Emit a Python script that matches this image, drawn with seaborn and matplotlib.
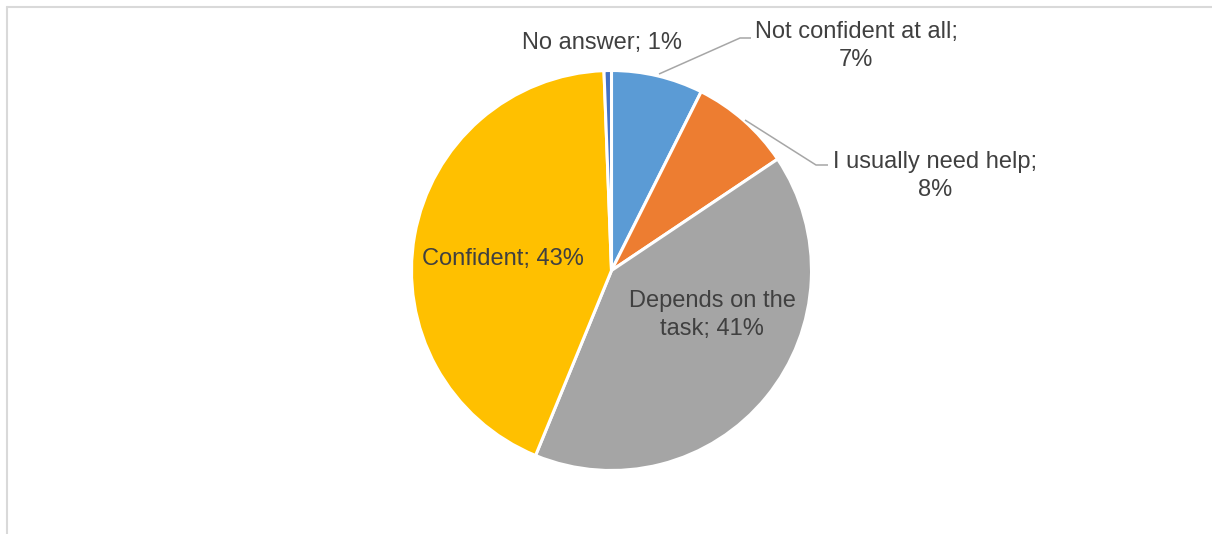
import matplotlib
matplotlib.use("Agg")
import matplotlib.pyplot as plt
from matplotlib.lines import Line2D
import seaborn as sns

# Survey: how confident respondents feel (share of answers, %)
categories = ["Not confident at all", "I usually need help", "Depends on the task",
              "Confident", "No answer"]
shares = [7.4, 8.2, 40.6, 43.2, 0.6]
colors = ["#5B9BD5", "#ED7D31", "#A5A5A5", "#FFC000", "#4472C4"]

sns.set_theme(style="white")
plt.rcParams["font.family"] = ["Liberation Sans", "DejaVu Sans"]

W, H, DPI = 1212, 534, 100
fig = plt.figure(figsize=(W / DPI, H / DPI), dpi=DPI)
ax = fig.add_axes([0, 0, 1, 1])

# pie of radius 1 centred at origin; 1 data unit = 200 px
cx, cy, R = 611.5, 270.5, 200.0

wedges, _ = ax.pie(shares, colors=colors, startangle=90, counterclock=False,
                   radius=1.0, center=(0, 0),
                   wedgeprops=dict(edgecolor="white", linewidth=2.2))
ax.set_xlim(-cx / R, (W - cx) / R)
ax.set_ylim(-(H - cy) / R, cy / R)
ax.set_aspect("equal")
ax.axis("off")


def d(px, py):
    """pixel position -> data coordinates"""
    return (px - cx) / R, (cy - py) / R


txt = dict(color="#404040", fontsize=17, ha="center", va="center")
pct = [f"{round(v)}%" for v in shares]

ax.text(*d(602, 43), f"{categories[4]}; {pct[4]}", **txt)
ax.text(*d(856, 46), f"{categories[0]};\n{pct[0]}", linespacing=1.32, **txt)
ax.text(*d(935, 176), f"{categories[1]};\n{pct[1]}", linespacing=1.3, **txt)
ax.text(*d(503, 259), f"{categories[3]}; {pct[3]}", **txt)
ax.text(*d(712, 315), "Depends on the\ntask; " + pct[2], linespacing=1.3, **txt)

# leader lines for the two small outer labels
lead = dict(color="#A6A6A6", lw=1.1, solid_capstyle="butt")
for pts in ([(659, 74), (740, 38), (751, 38)],
            [(745, 120), (816, 165), (828, 165)]):
    xs, ys = zip(*[d(*p) for p in pts])
    ax.plot(xs, ys, **lead)

# light chart-area frame along the top and left edges
frame = dict(color="#D9D9D9", lw=1.5, transform=fig.transFigure)
fig.add_artist(Line2D([7 / W, 1], [1 - 7 / H, 1 - 7 / H], **frame))
fig.add_artist(Line2D([7 / W, 7 / W], [0, 1 - 7 / H], **frame))

fig.savefig("out.png", dpi=DPI, facecolor="white")
